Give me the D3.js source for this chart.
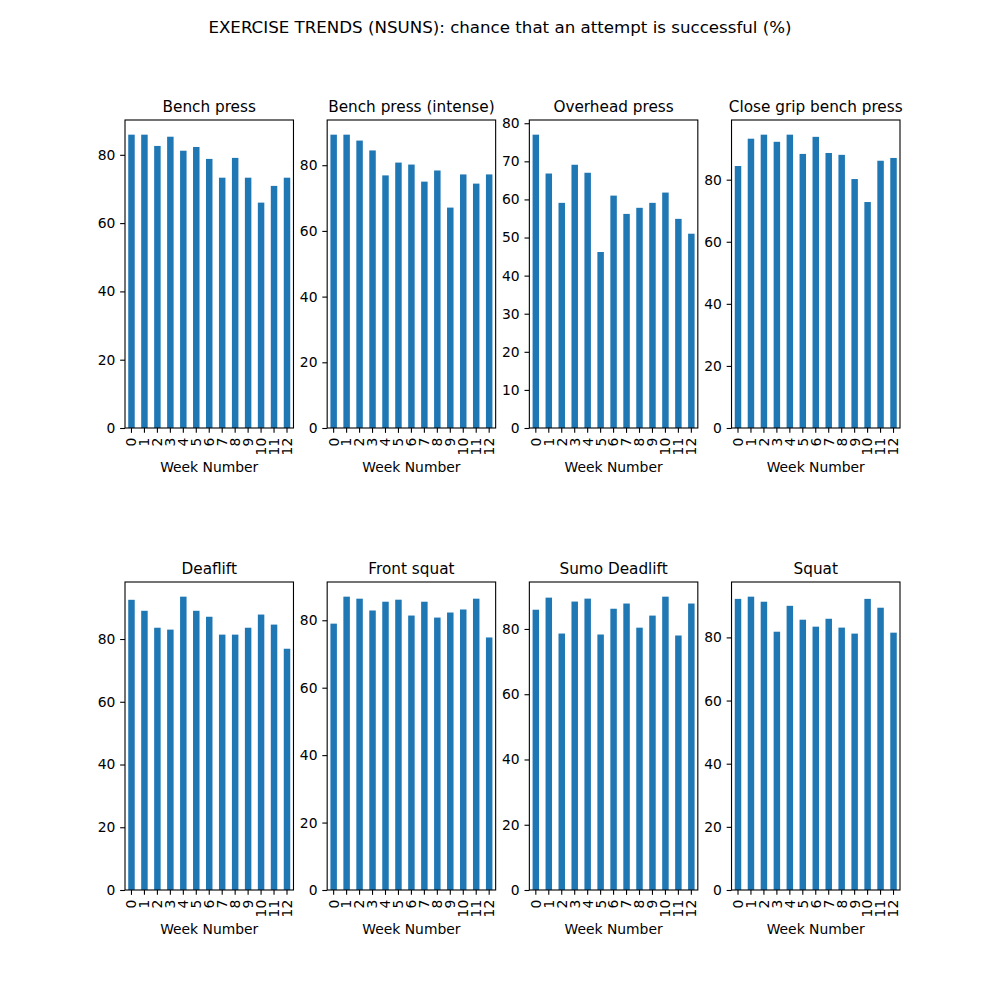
<!DOCTYPE html>
<html>
<head>
<meta charset="utf-8">
<script src="https://cdn.jsdelivr.net/npm/d3@7"></script>
<style>
  body { margin: 0; background: #fff; }
  svg text { font-family: "DejaVu Sans", sans-serif; fill: #000; }
</style>
</head>
<body>
<script>
// Semanas (eje X)
const weeks = [0, 1, 2, 3, 4, 5, 6, 7, 8, 9, 10, 11, 12];

// Titulos de cada grafico
const exercises = ["Bench press", "Bench press (intense)", "Overhead press", "Close grip bench press",
                   "Deaflift", "Front squat", "Sumo Deadlift", "Squat"];

// Porcentaje de exito por semana
const benchPress = [85.9, 85.9, 82.6, 85.3, 81.2, 82.3, 78.8, 73.3, 79.1, 73.3, 66.0, 70.9, 73.3];
const benchPressIntense = [89.3, 89.3, 87.5, 84.5, 76.9, 80.8, 80.2, 75.0, 78.4, 67.1, 77.2, 74.4, 77.2];
const overheadPress = [77.0, 66.8, 59.1, 69.1, 67.0, 46.2, 61.0, 56.2, 57.8, 59.1, 61.8, 54.9, 51.0];
const closeGrip = [84.4, 93.2, 94.5, 92.2, 94.5, 88.3, 93.8, 88.6, 88.0, 80.2, 72.8, 86.1, 87.0];
const deadlift = [92.5, 89.0, 83.6, 83.0, 93.5, 89.0, 87.1, 81.4, 81.4, 83.6, 87.8, 84.6, 76.9];
const frontSquat = [79.0, 87.0, 86.4, 82.9, 85.5, 86.1, 81.4, 85.5, 80.8, 82.3, 83.2, 86.4, 74.9];
const sumoDeadlift = [85.9, 89.6, 78.6, 88.4, 89.3, 78.3, 86.2, 87.8, 80.4, 84.1, 89.9, 78.0, 87.8];
const squat = [92.2, 92.9, 91.3, 81.8, 90.0, 85.6, 83.4, 85.9, 83.1, 81.2, 92.2, 89.4, 81.5];

const series = [benchPress, benchPressIntense, overheadPress, closeGrip,
                deadlift, frontSquat, sumoDeadlift, squat];

// Marcas del eje Y
const ticksBy20 = [0, 20, 40, 60, 80];
const ticksBy10 = [0, 10, 20, 30, 40, 50, 60, 70, 80];
const yTicks = [ticksBy20, ticksBy20, ticksBy10, ticksBy20, ticksBy20, ticksBy20, ticksBy20, ticksBy20];

const suptitle = "EXERCISE TRENDS (NSUNS): chance that an attempt is successful (%)";
const xLabel = "Week Number";

// Dimensiones (estilo matplotlib, figura 10x10 a 100 dpi)
const W = 1000, H = 1000;
const figLeft = 125, figRight = 900, figTop = 120, figBottom = 890;
const nCols = 4, nRows = 2;
const wspace = 0.2, hspace = 0.5;
const axW = (figRight - figLeft) / (nCols + (nCols - 1) * wspace);
const axH = (figBottom - figTop) / (nRows + (nRows - 1) * hspace);

const tickLen = 4.86, tickPad = 4.86;
const fontTick = 13.89, fontSup = 16.67, fontTitle = 15.28;
const barColor = "#1f77b4";

const svg = d3.select("body").append("svg")
    .attr("width", W)
    .attr("height", H);

svg.append("rect").attr("width", W).attr("height", H).attr("fill", "#fff");

// Titulo general
svg.append("text")
    .attr("x", W / 2)
    .attr("y", 33)
    .attr("text-anchor", "middle")
    .style("font-size", fontSup + "px")
    .text(suptitle);

series.forEach((values, k) => {
    const col = k % nCols, row = Math.floor(k / nCols);
    const x0 = figLeft + col * axW * (1 + wspace);
    const y0 = figTop + row * axH * (1 + hspace);

    const g = svg.append("g").attr("transform", `translate(${x0},${y0})`);

    // Escala X: barras de ancho 0.5 como pandas
    const xScale = d3.scaleBand()
        .domain(weeks)
        .range([0, axW])
        .paddingInner(0.5)
        .paddingOuter(0.25);

    // Escala Y: margen del 5% por arriba
    const yScale = d3.scaleLinear()
        .domain([0, d3.max(values) * 1.05])
        .range([axH, 0]);

    // Barras
    g.selectAll("rect.bar")
        .data(values)
        .enter().append("rect")
        .attr("class", "bar")
        .attr("x", (d, i) => xScale(weeks[i]))
        .attr("y", d => yScale(d))
        .attr("width", xScale.bandwidth())
        .attr("height", d => axH - yScale(d))
        .attr("fill", barColor);

    // Eje Y
    const yAxis = g.append("g")
        .call(d3.axisLeft(yScale).tickValues(yTicks[k]).tickSize(tickLen).tickPadding(tickPad).tickFormat(d3.format("d")));
    yAxis.select(".domain").remove();
    yAxis.selectAll("line").attr("stroke", "#000").attr("stroke-width", 1.1);
    yAxis.selectAll("text").style("font-size", fontTick + "px").style("font-family", "DejaVu Sans");

    // Eje X con etiquetas giradas 90 grados
    const xAxis = g.append("g")
        .attr("transform", `translate(0,${axH})`)
        .call(d3.axisBottom(xScale).tickSize(tickLen).tickPadding(tickPad));
    xAxis.select(".domain").remove();
    xAxis.selectAll("line").attr("stroke", "#000").attr("stroke-width", 1.1);
    xAxis.selectAll("text")
        .style("font-size", fontTick + "px")
        .style("font-family", "DejaVu Sans")
        .attr("text-anchor", "end")
        .attr("transform", "rotate(-90)")
        .attr("x", -(tickLen + tickPad))
        .attr("y", 0)
        .attr("dy", "0.35em");

    // Marco
    g.append("rect")
        .attr("width", axW)
        .attr("height", axH)
        .attr("fill", "none")
        .attr("stroke", "#000")
        .attr("stroke-width", 1.1);

    // Titulo del grafico
    g.append("text")
        .attr("x", axW / 2)
        .attr("y", -8.3)
        .attr("text-anchor", "middle")
        .style("font-size", fontTitle + "px")
        .text(exercises[k]);

    // Etiqueta eje X
    g.append("text")
        .attr("x", axW / 2)
        .attr("y", axH + 44)
        .attr("text-anchor", "middle")
        .style("font-size", fontTick + "px")
        .text(xLabel);
});
</script>
</body>
</html>
